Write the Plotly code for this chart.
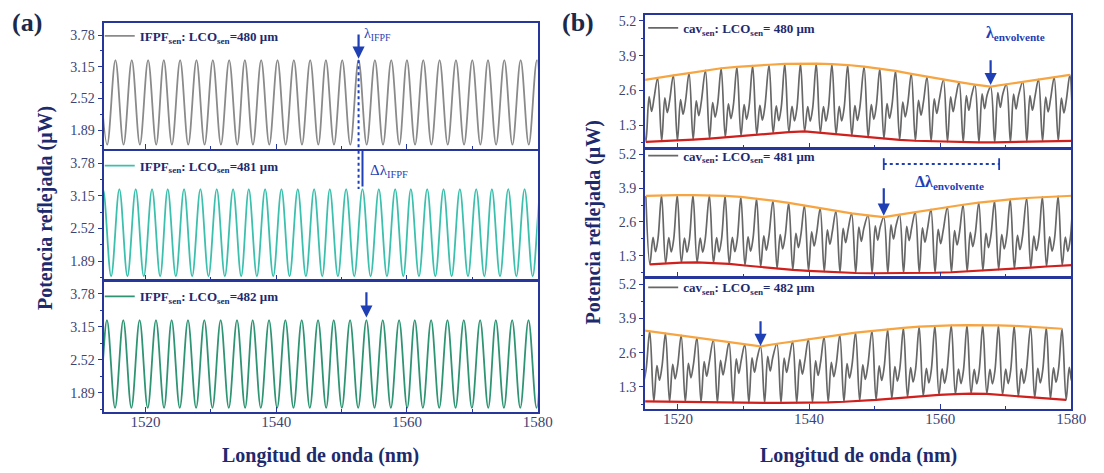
import plotly.graph_objects as go

# ---------------- panel (a): IFPF fringes (peak wavelengths, nm) ----------------
ifpf_480_peaks = [1512.9, 1515.4, 1517.9, 1520.4, 1522.8, 1525.3, 1527.8, 1530.3, 1532.8, 1535.2,
                  1537.7, 1540.2, 1542.7, 1545.2, 1547.6, 1550.1, 1552.6, 1555.1, 1557.6, 1560.0,
                  1562.5, 1565.0, 1567.5, 1570.0, 1572.4, 1574.9, 1577.4, 1579.9, 1582.4]
ifpf_481_peaks = [1511.0, 1513.5, 1516.0, 1518.5, 1521.0, 1523.4, 1525.9, 1528.4, 1530.9, 1533.4,
                  1535.8, 1538.3, 1540.8, 1543.3, 1545.8, 1548.2, 1550.7, 1553.2, 1555.7, 1558.2,
                  1560.6, 1563.1, 1565.6, 1568.1, 1570.6, 1573.0, 1575.5, 1578.0, 1580.5]
ifpf_482_peaks = [1511.6, 1514.1, 1516.6, 1519.1, 1521.6, 1524.0, 1526.5, 1529.0, 1531.5, 1534.0,
                  1536.4, 1538.9, 1541.4, 1543.9, 1546.4, 1548.8, 1551.3, 1553.8, 1556.3, 1558.8,
                  1561.2, 1563.7, 1566.2, 1568.7, 1571.2, 1573.6, 1576.1, 1578.6, 1581.1]
ifpf_peak_level = 3.28
ifpf_valley_level = 1.60
ifpf_half_period = 1.24
ifpf_labels = ["480", "481", "482"]
ifpf_marks = [1552.6, 1553.2, 1553.8]

# ---------------- panel (b): cavity spectra ----------------
cav_480_peaks = [1514.5, 1516.9, 1519.3, 1521.7, 1524.2, 1526.6, 1529.0, 1531.4, 1533.9, 1536.3,
                 1538.7, 1541.1, 1543.5, 1545.9, 1548.4, 1550.8, 1553.2, 1555.6, 1558.0, 1560.5,
                 1562.9, 1565.3, 1567.7, 1570.1, 1572.6, 1575.0, 1577.4, 1579.8]
cav_480_peak_y = [2.98, 3.06, 3.16, 3.25, 3.35, 3.43, 3.48, 3.53, 3.56, 3.59,
                  3.60, 3.60, 3.58, 3.55, 3.49, 3.42, 3.33, 3.22, 3.11, 3.00,
                  2.91, 2.82, 2.74, 2.83, 2.92, 3.01, 3.09, 3.18]
cav_480_valley_y = [0.68, 0.70, 0.72, 0.76, 0.80, 0.85, 0.90, 0.95, 1.00, 1.04,
                    1.07, 1.02, 0.96, 0.90, 0.84, 0.79, 0.75, 0.72, 0.70, 0.68,
                    0.67, 0.66, 0.66, 0.67, 0.68, 0.70, 0.71, 0.72]
cav_480_hump_y = [2.37, 2.32, 2.26, 2.21, 2.15, 2.10, 2.07, 2.04, 2.02, 2.01,
                  2.00, 2.00, 2.01, 2.03, 2.07, 2.11, 2.16, 2.23, 2.29, 2.36,
                  2.41, 2.47, 2.52, 2.46, 2.41, 2.35, 2.31, 2.25]

cav_481_peaks = [1515.1, 1517.5, 1519.9, 1522.3, 1524.8, 1527.2, 1529.6, 1532.0, 1534.5, 1536.9,
                 1539.3, 1541.7, 1544.1, 1546.5, 1549.0, 1551.4, 1553.8, 1556.2, 1558.6, 1561.1,
                 1563.5, 1565.9, 1568.3, 1570.7, 1573.2, 1575.6, 1578.0, 1580.4]
cav_481_peak_y = [3.60, 3.62, 3.63, 3.63, 3.62, 3.60, 3.56, 3.50, 3.42, 3.33,
                  3.23, 3.12, 3.02, 2.93, 2.85, 2.78, 2.88, 2.98, 3.08, 3.17,
                  3.26, 3.34, 3.41, 3.47, 3.52, 3.56, 3.59, 3.61]
cav_481_valley_y = [0.96, 1.00, 1.03, 1.04, 1.02, 0.98, 0.92, 0.86, 0.80, 0.75,
                    0.71, 0.68, 0.65, 0.63, 0.62, 0.62, 0.62, 0.63, 0.64, 0.66,
                    0.69, 0.72, 0.76, 0.80, 0.84, 0.88, 0.92, 0.95]
cav_481_hump_y = [2.00, 1.99, 1.98, 1.98, 1.99, 2.00, 2.02, 2.06, 2.11, 2.16,
                  2.22, 2.29, 2.35, 2.40, 2.45, 2.49, 2.43, 2.37, 2.31, 2.26,
                  2.20, 2.16, 2.11, 2.08, 2.05, 2.02, 2.01, 1.99]

cav_482_peaks = [1513.3, 1515.7, 1518.1, 1520.5, 1522.9, 1525.4, 1527.8, 1530.2, 1532.6, 1535.1,
                 1537.5, 1539.9, 1542.3, 1544.7, 1547.1, 1549.6, 1552.0, 1554.4, 1556.8, 1559.2,
                 1561.7, 1564.1, 1566.5, 1568.9, 1571.3, 1573.8, 1576.2, 1578.6]
cav_482_peak_y = [3.50, 3.42, 3.34, 3.26, 3.17, 3.08, 2.99, 2.91, 2.84, 2.94,
                  3.03, 3.12, 3.20, 3.28, 3.36, 3.43, 3.49, 3.54, 3.59, 3.62,
                  3.64, 3.65, 3.65, 3.64, 3.62, 3.59, 3.55, 3.51]
cav_482_valley_y = [0.76, 0.75, 0.74, 0.73, 0.72, 0.71, 0.70, 0.70, 0.70, 0.70,
                    0.70, 0.71, 0.72, 0.74, 0.77, 0.81, 0.86, 0.91, 0.96, 1.00,
                    1.03, 1.05, 1.04, 1.00, 0.94, 0.89, 0.85, 0.81]
cav_482_hump_y = [2.06, 2.11, 2.16, 2.20, 2.26, 2.31, 2.37, 2.41, 2.46, 2.40,
                  2.34, 2.29, 2.24, 2.19, 2.14, 2.10, 2.07, 2.04, 2.01, 1.99,
                  1.98, 1.97, 1.97, 1.98, 1.99, 2.01, 2.03, 2.05]

# offsets (nm) after each tall peak: deep valley, hump, dip, shoulder
cav_offsets = [0.62, 1.10, 1.48, 1.86]
cav_dip_depth = 0.55
cav_shoulder_drop = 0.05
cav_labels = ["480", "481", "482"]
cav_marks = [1567.7, 1551.4, 1532.6]

# ---------------- style ----------------
FONT = "Liberation Serif"
NAVY = "#1e2a6e"
FRAME = "#27369a"
ARROW = "#1f3fb5"
TICKC = "#3b4373"
OFF = 8                      # default body margin of the html page
FW, FH = 1104 - OFF, 473 - OFF

def px_x(x):
    return (x - OFF) / FW

def px_y(y):
    return 1 - (y - OFF) / FH

left_dom = [px_x(105), px_x(545)]
right_dom = [px_x(654), px_x(1086)]
def ydom(top_px, bot_px):
    return [px_y(bot_px), px_y(top_px)]
left_y = [ydom(22, 148), ydom(150, 280), ydom(281, 412)]
right_y = [ydom(14, 147), ydom(148, 277), ydom(278, 409)]

fig = go.Figure()

left_colors = ["#8a8a8a", "#3cc0ad", "#2f9474"]
left_peaks = [ifpf_480_peaks, ifpf_481_peaks, ifpf_482_peaks]

def fringe_xy(peaks):
    xs, ys = [], []
    for p in peaks:
        xs += [p, p + ifpf_half_period]
        ys += [ifpf_peak_level, ifpf_valley_level]
    return xs, ys

for i in range(3):
    xs, ys = fringe_xy(left_peaks[i])
    n = i + 1
    fig.add_trace(go.Scatter(
        x=xs, y=ys, mode="lines", line=dict(color=left_colors[i], width=1.8, shape="spline", smoothing=1.0),
        name=f"<b>IFPF<sub>sen</sub>: LCO<sub>sen</sub>={ifpf_labels[i]} μm</b>",
        xaxis=f"x{n}", yaxis=f"y{n}", legend="legend" if n == 1 else f"legend{n}", showlegend=True))

cav_sets = [
    (cav_480_peaks, cav_480_peak_y, cav_480_valley_y, cav_480_hump_y),
    (cav_481_peaks, cav_481_peak_y, cav_481_valley_y, cav_481_hump_y),
    (cav_482_peaks, cav_482_peak_y, cav_482_valley_y, cav_482_hump_y),
]

for i, (pk, py, vy, hy) in enumerate(cav_sets):
    n = i + 4
    xs, ys = [], []
    for p, a, v, h in zip(pk, py, vy, hy):
        xs += [p, p + cav_offsets[0], p + cav_offsets[1], p + cav_offsets[2], p + cav_offsets[3]]
        ys += [a, v, h, h - cav_dip_depth, h - cav_shoulder_drop]
    fig.add_trace(go.Scatter(
        x=xs, y=ys, mode="lines", line=dict(color="#676767", width=1.7, shape="spline", smoothing=1.0),
        name=f"<b>cav<sub>sen</sub>: LCO<sub>sen</sub>= {cav_labels[i]} μm</b>",
        xaxis=f"x{n}", yaxis=f"y{n}", legend=f"legend{n}", showlegend=True))
    fig.add_trace(go.Scatter(
        x=pk, y=py, mode="lines", line=dict(color="#f7a541", width=2.2),
        xaxis=f"x{n}", yaxis=f"y{n}", showlegend=False, hoverinfo="skip"))
    fig.add_trace(go.Scatter(
        x=[p + cav_offsets[0] for p in pk], y=vy, mode="lines", line=dict(color="#d0201d", width=2.2),
        xaxis=f"x{n}", yaxis=f"y{n}", showlegend=False, hoverinfo="skip"))

# ---------------- axes ----------------
layout = dict(
    width=FW, height=FH, margin=dict(l=0, r=0, t=0, b=0),
    paper_bgcolor="white", plot_bgcolor="white",
    font=dict(family=FONT, color=NAVY),
    showlegend=True,
)
axis_common = dict(showline=True, mirror=True, linecolor=FRAME, linewidth=2,
                   showgrid=False, zeroline=False,
                   tickfont=dict(family=FONT, size=14, color=TICKC))
for i in range(6):
    n = i + 1
    key = "" if n == 1 else str(n)
    left = i < 3
    last = i in (2, 5)
    xr = [1513.6, 1580] if left else [1515, 1580]
    anchor_x = "x" if left else "x4"
    layout[f"xaxis{key}"] = dict(
        axis_common, domain=left_dom if left else right_dom, anchor=f"y{key}",
        range=xr, tickvals=[1520, 1540, 1560, 1580], ticks="inside", ticklen=5, tickcolor=FRAME,
        minor=dict(dtick=10, tick0=1520, ticks="inside", ticklen=3, tickcolor=FRAME),
        showticklabels=last, ticklabelstandoff=-5,
        tickfont=dict(family=FONT, size=15, color=TICKC),
        **({} if n in (1, 4) else {"matches": anchor_x}))
    if left:
        yv = [1.89, 2.52, 3.15, 3.78]
        yr = [1.52, 4.02]
        mdt = 0.315
    else:
        yv = [1.3, 2.6, 3.9, 5.2]
        yr = [0.46, 5.42]
        mdt = 0.65
    layout[f"yaxis{key}"] = dict(
        axis_common, domain=(left_y if left else right_y)[i % 3], anchor=f"x{key}",
        range=yr, tickvals=yv, ticktext=[f"{v:.2f}" if left else f"{v:.1f}" for v in yv],
        ticks="outside", ticklen=4, tickcolor=FRAME,
        minor=dict(dtick=mdt, tick0=yv[0], ticks="outside", ticklen=2, tickcolor=FRAME))

# legends (one per sub-panel)
leg_pos = [(101, 20), (101, 150), (101, 281), (652, 12), (652, 140), (652, 272)]
for i, (lx, ly) in enumerate(leg_pos):
    n = i + 1
    key = "legend" if n == 1 else f"legend{n}"
    layout[key] = dict(x=px_x(lx), y=px_y(ly), xanchor="left", yanchor="top",
                       bgcolor="rgba(0,0,0,0)", borderwidth=0, itemwidth=30,
                       font=dict(family=FONT, size=13, color=NAVY),
                       tracegroupgap=0)

fig.update_layout(**layout)

# ---------------- annotations & marker lines ----------------
ann = []
shapes = []
def arrow(xr, yr, x, y_tip, y_tail):
    ann.append(dict(xref=xr, yref=yr, axref=xr, ayref=yr, x=x, y=y_tip, ax=x, ay=y_tail,
                    showarrow=True, arrowhead=2, arrowsize=1.1, arrowwidth=2.2,
                    arrowcolor=ARROW, text=""))

# panel (a)
arrow("x", "y", ifpf_marks[0], ifpf_peak_level + 0.03, 3.82)
ann.append(dict(xref="x", yref="y", x=ifpf_marks[0] + 0.6, y=3.80, text="λ<sub>IFPF</sub>",
                showarrow=False, xanchor="left", font=dict(family=FONT, size=14, color=ARROW)))
shapes.append(dict(type="line", xref="x", yref="y", x0=ifpf_marks[0], x1=ifpf_marks[0],
                   y0=ifpf_peak_level, y1=1.52, line=dict(color=ARROW, width=2, dash="dot")))
shapes.append(dict(type="line", xref="x2", yref="y2", x0=ifpf_marks[0], x1=ifpf_marks[0],
                   y0=4.02, y1=ifpf_peak_level, line=dict(color=ARROW, width=2, dash="dot")))
shapes.append(dict(type="line", xref="x2", yref="y2", x0=ifpf_marks[1], x1=ifpf_marks[1],
                   y0=4.02, y1=ifpf_peak_level + 0.05, line=dict(color=ARROW, width=2)))
ann.append(dict(xref="x2", yref="y2", x=ifpf_marks[1] + 0.9, y=3.62, text="Δλ<sub>IFPF</sub>",
                showarrow=False, xanchor="left", font=dict(family=FONT, size=15, color=ARROW)))
arrow("x3", "y3", ifpf_marks[2], ifpf_peak_level + 0.05, 3.84)

# panel (b)
arrow("x4", "y4", cav_marks[0], 2.80, 3.78)
ann.append(dict(xref="x4", yref="y4", x=1571.5, y=4.72, text="<b>λ<sub>envolvente</sub></b>",
                showarrow=False, font=dict(family=FONT, size=16, color=ARROW)))
arrow("x5", "y5", cav_marks[1], 2.84, 3.95)
for xe in (cav_marks[1], cav_marks[0] + 1.3):
    shapes.append(dict(type="line", xref="x5", yref="y5", x0=xe, x1=xe, y0=4.6, y1=5.05,
                       line=dict(color=ARROW, width=1.8)))
shapes.append(dict(type="line", xref="x5", yref="y5", x0=cav_marks[1], x1=cav_marks[0] + 1.3,
                   y0=4.83, y1=4.83, line=dict(color=ARROW, width=1.8, dash="dot")))
ann.append(dict(xref="x5", yref="y5", x=1561.5, y=4.12, text="<b>Δλ<sub>envolvente</sub></b>",
                showarrow=False, font=dict(family=FONT, size=16, color=ARROW)))
arrow("x6", "y6", cav_marks[2], 2.86, 3.85)

# titles and panel labels
def paper_text(x, y, text, size, color=NAVY, angle=0):
    ann.append(dict(xref="paper", yref="paper", x=px_x(x), y=px_y(y), text=text,
                    xanchor="center", yanchor="middle", textangle=angle, showarrow=False,
                    font=dict(family=FONT, size=size, color=color)))

paper_text(46, 207, "<b>Potencia reflejada (μW)</b>", 20, angle=-90)
paper_text(602, 222, "<b>Potencia reflejada (μW)</b>", 20, angle=-90)
paper_text(325, 455, "<b>Longitud de onda (nm)</b>", 20)
paper_text(870, 455, "<b>Longitud de onda (nm)</b>", 20)
paper_text(27, 22, "<b>(a)</b>", 26, color="#1b2a4a")
paper_text(586, 22, "<b>(b)</b>", 26, color="#1b2a4a")

fig.update_layout(annotations=ann, shapes=shapes)
fig.write_html("out.html")
